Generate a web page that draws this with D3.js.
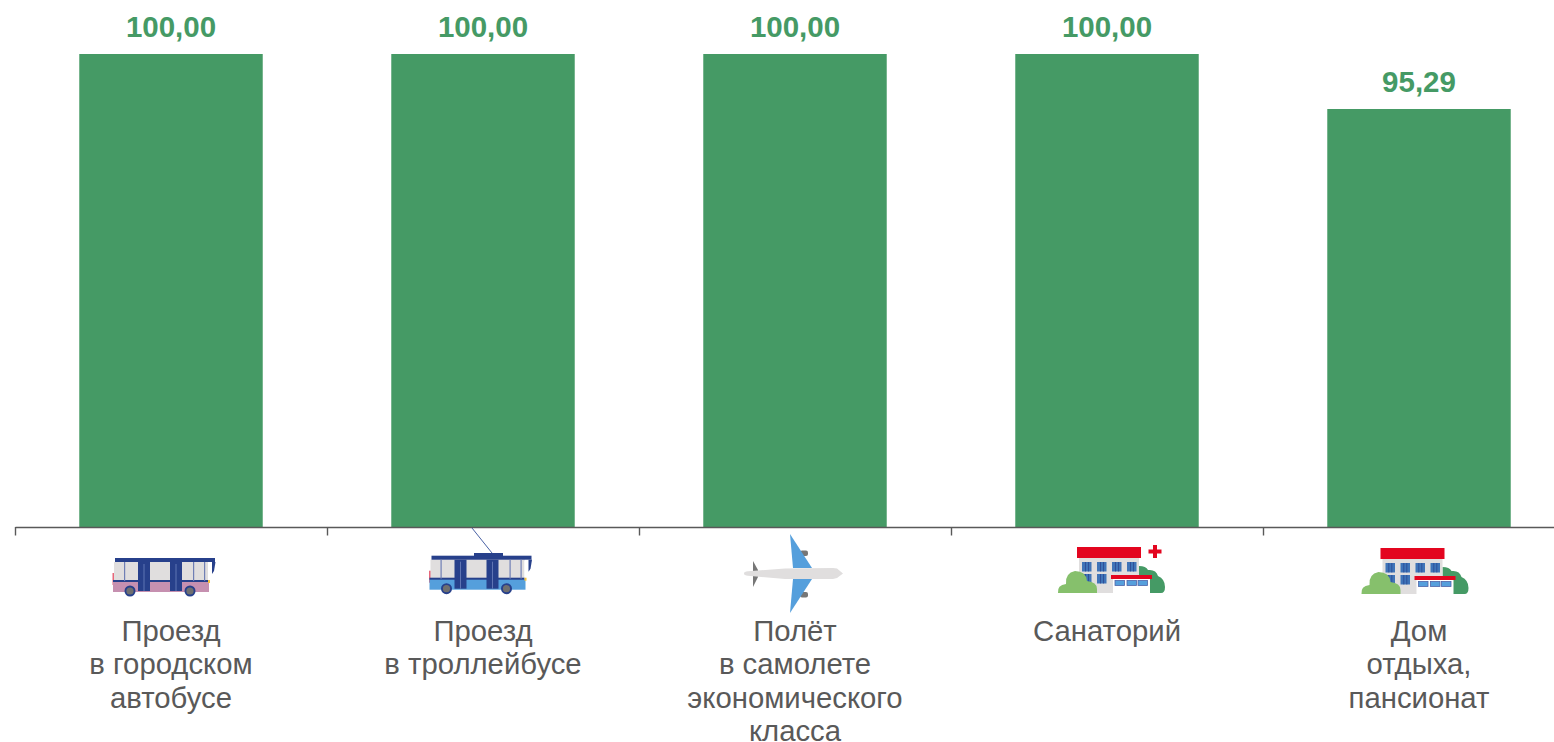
<!DOCTYPE html>
<html>
<head>
    <meta charset="utf-8">
    <title>Chart</title>
    <script src="https://d3js.org/d3.v7.min.js"></script>
    <style>
        html, body { margin: 0; padding: 0; background: #fff; overflow: hidden; }
        text { font-family: "Liberation Sans", Arial, sans-serif; }
    </style>
</head>

<body>
<div id="chart"></div>
<script type="text/javascript">

    let categories = ["bus", "trolley", "plane", "sanatorium", "resthome"];
    let values = [100, 100, 100, 100, 95.29];
    let categoryLines = [
        ["Проезд", "в городском", "автобусе"],
        ["Проезд", "в троллейбусе"],
        ["Полёт", "в самолете", "экономического", "класса"],
        ["Санаторий"],
        ["Дом", "отдыха,", "пансионат"]
    ];
    // the value axis of the original does not start at zero
    let yDomain = [59.5, 100];

    let width = 1554, height = 742;
    let green = "#459a65", grey = "#595959";
    let navy = "#27408b", pale = "#e0dede", sky = "#559fdc", red = "#e3051f";

    let svg = d3.select("#chart").append("svg")
        .attr("width", width)
        .attr("height", height)
        .style("display", "block");

    let xScale = d3.scaleBand()
        .domain(categories)
        .range([15, 1575])
        .paddingInner(0.412)
        .paddingOuter(0.206);

    let yScale = d3.scaleLinear()
        .domain(yDomain)
        .range([527, 54]);

    let center = function(c) { return xScale(c) + xScale.bandwidth() / 2; };

    // bars
    svg.selectAll("rect.bar")
        .data(categories)
        .enter()
        .append("rect")
        .attr("class", "bar")
        .attr("x", function(d) { return xScale(d); })
        .attr("y", function(d, i) { return yScale(values[i]); })
        .attr("width", xScale.bandwidth())
        .attr("height", function(d, i) { return yScale.range()[0] - yScale(values[i]); })
        .attr("fill", green);

    // value labels
    svg.selectAll("text.value")
        .data(categories)
        .enter()
        .append("text")
        .attr("class", "value")
        .attr("x", center)
        .attr("y", function(d, i) { return yScale(values[i]) - 17.3; })
        .attr("text-anchor", "middle")
        .attr("font-size", "29.5px")
        .attr("font-weight", "bold")
        .attr("fill", green)
        .text(function(d, i) { return d3.format(".2f")(values[i]).replace(".", ","); });

    // axis, the ticks sit between the categories
    let tickScale = d3.scaleLinear()
        .domain([0, categories.length])
        .range(xScale.range());

    let xAxis = d3.axisBottom(tickScale)
        .tickValues(d3.range(categories.length + 1))
        .tickSizeInner(8.5)
        .tickSizeOuter(0)
        .tickFormat("");

    let axisG = svg.append("g")
        .attr("transform", "translate(0," + yScale.range()[0] + ")")
        .call(xAxis);
    axisG.selectAll("path, line").attr("stroke", grey).attr("stroke-width", 1.4);

    // category labels
    let labels = svg.selectAll("text.cat")
        .data(categories)
        .enter()
        .append("text")
        .attr("class", "cat")
        .attr("text-anchor", "middle")
        .attr("font-size", "29.3px")
        .attr("fill", grey);

    labels.each(function(d, i) {
        let t = d3.select(this);
        categoryLines[i].forEach(function(line, j) {
            t.append("tspan")
                .attr("x", center(d))
                .attr("y", 640.7 + j * 33.4)
                .text(line);
        });
    });

    // icons, drawn relative to band centre and axis line
    function rect(g, x0, x1, y0, y1, fill) {
        return g.append("rect")
            .attr("x", x0).attr("y", y0)
            .attr("width", x1 - x0).attr("height", y1 - y0)
            .attr("fill", fill);
    }

    function bus(g, lower) {
        rect(g, -58.5, -56, 46, 58, "#e8677a");
        rect(g, -56, 44, 31, 35.5, navy);
        rect(g, -57, 37, 35, 54, pale);
        rect(g, 37, 44, 35, 54, "#fff");
        g.append("path").attr("d", "M41 35H44.5L43 44L41 47Z").attr("fill", navy);
        rect(g, -58, 38, 54, 65, lower);
        rect(g, -58, 37, 53, 55, navy);
        rect(g, 37, 39, 53, 56, "#f7c23c");
        [-47, 22, 33].forEach(function(x) { rect(g, x, x + 1.2, 35, 54, "#6f7fb5"); });
        [-33, -1].forEach(function(x) {
            rect(g, x, x + 12, 35, 64, navy);
            rect(g, x + 5.5, x + 6.5, 37, 64, "#5f74b3");
        });
        [-41, 19].forEach(function(x) {
            g.append("circle").attr("cx", x).attr("cy", 64).attr("r", 5.5).attr("fill", navy);
            g.append("circle").attr("cx", x).attr("cy", 64).attr("r", 3.6).attr("fill", "#6f6f6f");
        });
    }

    function building(g) {
        g.append("path")
            .attr("d", "M32 39Q39 39 41 43Q49 42 51 49Q58 52 58 60Q58 66 54 66H32Z")
            .attr("fill", green);
        rect(g, -28, 32, 31, 66, pale);
        rect(g, -30, 34, 20, 31, red);
        [[-25, 35], [-10, 35], [5, 35], [20, 35], [-25, 47], [-10, 47]].forEach(function(p) {
            rect(g, p[0], p[0] + 9.5, p[1], p[1] + 9.5, "#3f74b8");
            rect(g, p[0] + 3, p[0] + 3.7, p[1], p[1] + 9.5, navy);
            rect(g, p[0] + 6, p[0] + 6.7, p[1], p[1] + 9.5, navy);
        });
        g.append("path")
            .attr("d", "M-49 66Q-50 58 -41 57Q-42 46 -32 44Q-21 44 -20 54Q-10 55 -10 62V66Z")
            .attr("fill", "#86c06c");
        rect(g, 6, 43, 51, 67, "#fff");
        rect(g, 4, 45, 48, 52, red);
        [8, 20, 31].forEach(function(x) {
            rect(g, x, x + 9.5, 53.5, 58.5, sky).attr("stroke", "#4f64a8").attr("stroke-width", 0.8);
        });
    }

    let icons = {
        bus: function(g) {
            bus(g, "#c690b0");
        },
        trolley: function(g) {
            g.append("line").attr("x1", -11).attr("y1", 1).attr("x2", 9).attr("y2", 26)
                .attr("stroke", "#4a62a5").attr("stroke-width", 1);
            rect(g, -9, 20, 26, 30, navy);
            bus(g.append("g").attr("transform", "translate(4.5,-2.3)"), sky);
        },
        plane: function(g) {
            rect(g, 5, 13, 23.5, 29, "#777").attr("rx", 2);
            rect(g, 5, 13, 65, 70.5, "#777").attr("rx", 2);
            g.append("path").attr("d", "M-42 34L-37 43V50L-42 60Z").attr("fill", "#777");
            g.append("path").attr("d", "M-5 7L17 41H-2Z").attr("fill", sky);
            g.append("path").attr("d", "M-5 86L17 52H-2Z").attr("fill", sky);
            g.append("path")
                .attr("d", "M-51 46.5Q-51 44.5 -47 44.3L-10 41.5L38 41L42 41.5L48 46.5L42 51L38 52H-10L-47 48.7Q-51 48.5 -51 46.5Z")
                .attr("fill", pale);
        },
        sanatorium: function(g) {
            building(g);
            rect(g, 46, 50, 18, 31, red);
            rect(g, 41.5, 54.5, 22.5, 26.5, red);
        },
        resthome: function(g) {
            building(g.append("g").attr("transform", "translate(-8.5,1)"));
        }
    };

    categories.forEach(function(c) {
        let g = svg.append("g")
            .attr("transform", "translate(" + center(c) + "," + yScale.range()[0] + ")");
        icons[c](g);
    });

</script>
</body>
</html>
